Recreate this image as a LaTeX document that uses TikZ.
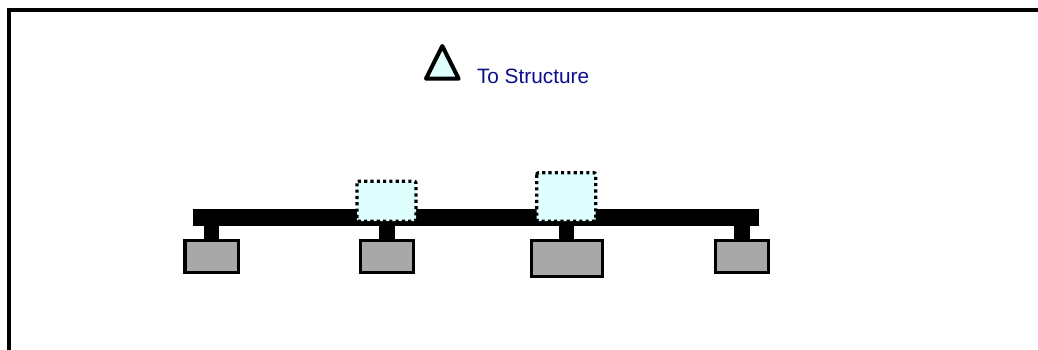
\documentclass[tikz,border=0pt]{standalone}
\usepackage{fontspec}
\setmainfont{Liberation Sans}
\definecolor{paleCyan}{HTML}{DFFFFF}
\definecolor{padGray}{HTML}{A8A8A8}
\definecolor{labelBlue}{HTML}{0E0E8C}
\tikzset{
  px/.style={inner sep=0pt,outer sep=0pt},
  pad/.style={fill=padGray,draw=black,line width=3.4pt,line join=miter},
  cap box/.style={fill=paleCyan,draw=black,line width=3.3pt,dash pattern=on 3.1pt off 3.2pt,rounded corners=2pt},
}
\begin{document}
\begin{tikzpicture}[x=1pt,y=-1pt,line cap=butt]
\useasboundingbox (0,0) rectangle (1038,350);
\fill[white] (0,0) rectangle (1038,350);
% frame
\coordinate (frameBL) at (9,350);
\coordinate (frameTL) at (9,9.8);
\coordinate (frameTR) at (1038,9.8);
\draw[line width=3.6pt,line join=miter] (frameBL) -- (frameTL) -- (frameTR);
% beam and stems
\fill[black] (193.3,209.3) rectangle (759.3,226.3);
\fill[black] (203.5,226) rectangle (219,240);
\fill[black] (379,226) rectangle (394.5,240);
\fill[black] (558.7,226) rectangle (574.3,240);
\fill[black] (734,226) rectangle (749.7,240);
% pads
\draw[pad] (185,240.5) rectangle (238.4,272.4);
\draw[pad] (360.2,240.5) rectangle (413.7,272.4);
\draw[pad] (531.2,240.5) rectangle (602.4,276.7);
\draw[pad] (715.5,240.5) rectangle (768.4,272.4);
% dotted boxes
\draw[cap box] (357,181.3) rectangle (416,221.2);
\draw[cap box] (536.7,172.7) rectangle (595.7,221.2);
% triangle
\draw[fill=paleCyan,line width=4pt,line join=round] (426,78.7) -- (442.3,46) -- (458.7,78.7) -- cycle;
% label
\node[px,anchor=base west,text=labelBlue,font=\fontsize{20.8pt}{24pt}\selectfont] (lbl) at (477,84) {To Structure};
\end{tikzpicture}
\end{document}
